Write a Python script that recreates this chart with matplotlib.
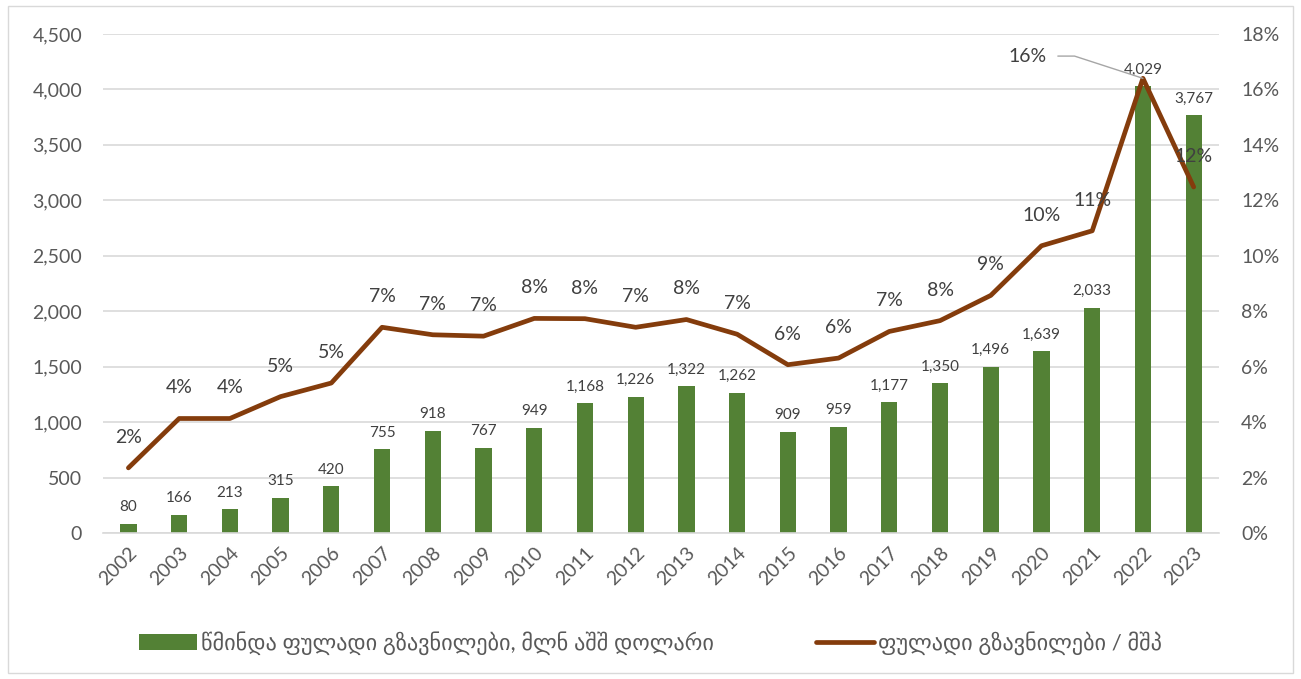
import matplotlib

matplotlib.use("Agg")
import matplotlib.pyplot as plt
from matplotlib.patches import Rectangle
from matplotlib.ticker import FuncFormatter, MultipleLocator

plt.rcParams["font.family"] = ["Lato", "DejaVu Sans"]

years = [str(y) for y in range(2002, 2024)]
remittances = [80, 166, 213, 315, 420, 755, 918, 767, 949, 1168, 1226,
               1322, 1262, 909, 959, 1177, 1350, 1496, 1639, 2033, 4029, 3767]
share_gdp = [2.35, 4.13, 4.13, 4.92, 5.41, 7.42, 7.15, 7.1, 7.74, 7.73, 7.42,
             7.7, 7.17, 6.07, 6.31, 7.27, 7.66, 8.57, 10.36, 10.9, 16.4, 12.48]

bar_label = "წმინდა ფულადი გზავნილები, მლნ აშშ დოლარი"
line_label = "ფულადი გზავნილები / მშპ"

GREEN = "#538135"
BROWN = "#843C0C"
TEXT = "#595959"
GRID = "#D9D9D9"

fig = plt.figure(figsize=(13.01, 6.79), dpi=100)
ax = fig.add_axes([0.0792, 0.215, 0.8578, 0.735])
ax2 = ax.twinx()

x = list(range(len(years)))
bars = ax.bar(x, remittances, width=0.32, color=GREEN, label=bar_label, zorder=2)
line, = ax2.plot(x, share_gdp, color=BROWN, lw=3.4, solid_capstyle="round",
                 solid_joinstyle="round", label=line_label, zorder=3)

ax.set_xlim(-0.5, len(years) - 0.5)
ax.set_ylim(0, 4500)
ax2.set_ylim(0, 18)
ax.yaxis.set_major_locator(MultipleLocator(500))
ax2.yaxis.set_major_locator(MultipleLocator(2))
ax.yaxis.set_major_formatter(FuncFormatter(lambda v, p: f"{v:,.0f}"))
ax2.yaxis.set_major_formatter(FuncFormatter(lambda v, p: f"{v:.0f}%"))
ax.grid(axis="y", color=GRID, lw=1.2, zorder=0)
ax.set_axisbelow(True)

for a in (ax, ax2):
    for s in a.spines.values():
        s.set_visible(False)
    a.tick_params(length=0, labelsize=14, labelcolor=TEXT)
ax.spines["bottom"].set_visible(True)
ax.spines["bottom"].set_color(GRID)
ax.spines["bottom"].set_linewidth(1.2)
ax.tick_params(axis="y", pad=15)
ax2.tick_params(axis="y", pad=16)

ax.set_xticks(x)
ax.set_xticklabels(years, rotation=45, ha="right", rotation_mode="anchor")
ax.tick_params(axis="x", pad=8)

# value labels on bars
for xi, v in zip(x, remittances):
    ax.annotate(f"{v:,}", (xi, v), xytext=(0, 7), textcoords="offset points",
                ha="center", va="bottom", fontsize=11, color="#404040")

# percent labels above the line; 2022 is pushed aside with a leader line
for xi, v in zip(x, share_gdp):
    if years[xi] == "2022":
        ax2.annotate(f"{v:.0f}%", (xi, v), xytext=(-83, 16), textcoords="offset points",
                     ha="center", va="center", fontsize=14, color="#404040",
                     arrowprops=dict(arrowstyle="-", color="#A6A6A6", lw=1,
                                     shrinkA=6, shrinkB=0,
                                     connectionstyle="angle,angleA=0,angleB=162,rad=0"))
        continue
    ax2.annotate(f"{v:.0f}%", (xi, v), xytext=(0, 22), textcoords="offset points",
                 ha="center", va="center", fontsize=14, color="#404040")

fig.legend(handles=[bars, line], labels=[bar_label, line_label], loc="center",
           bbox_to_anchor=(0.5, 0.053), ncol=2, frameon=False, fontsize=16,
           labelcolor=TEXT, columnspacing=4.6, handlelength=2.6, handletextpad=0.2)

fig.add_artist(Rectangle((8 / 1301, 6 / 679), 1 - 16 / 1301, 1 - 12 / 679,
                         transform=fig.transFigure, fill=False, ec="#D9D9D9", lw=1))

fig.savefig("out.png", dpi=100)
